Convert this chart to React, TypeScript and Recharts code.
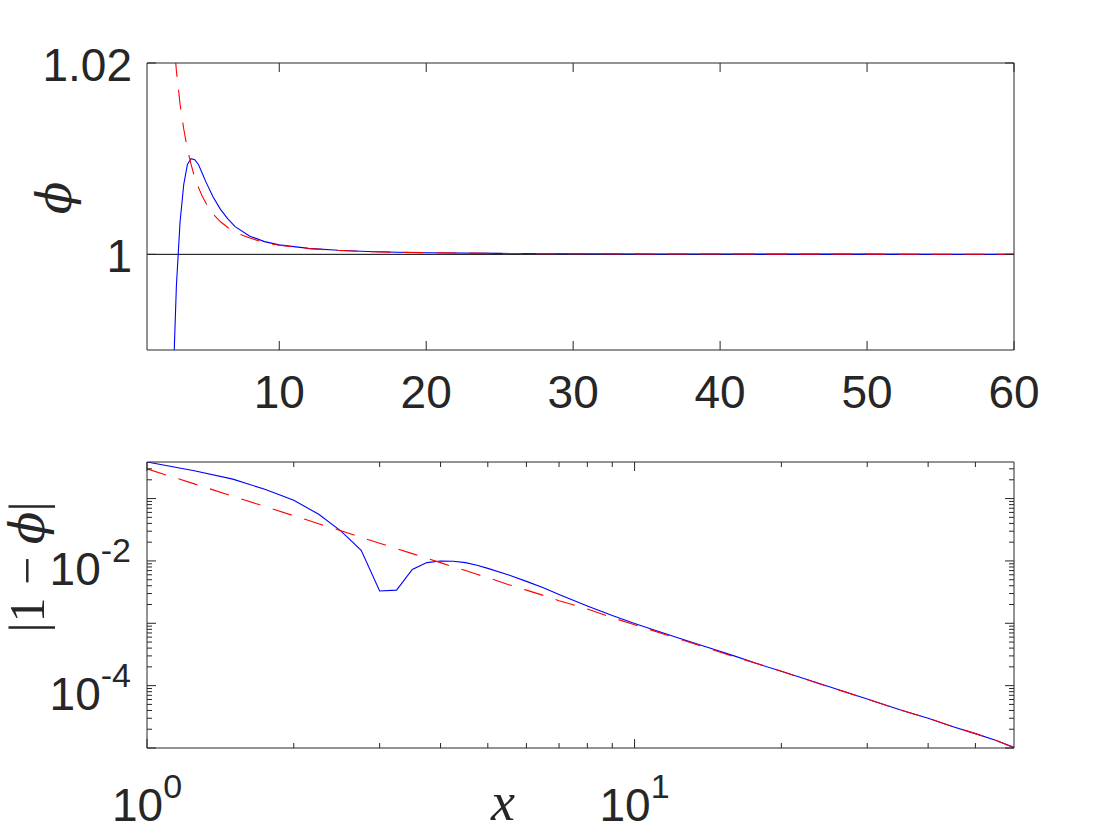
import React from 'react';
import { LineChart, Line, XAxis, YAxis, ReferenceLine } from 'recharts';

// ---- data ----
const xValues = [1, 1.25, 1.5, 1.75, 2, 2.25, 2.5, 2.75, 3, 3.25, 3.5, 3.75, 4, 4.25, 4.5, 4.75, 5, 5.5, 6, 6.5, 7, 8, 9, 10, 12, 14, 16, 18, 20, 25, 30, 35, 40, 45, 50, 55, 60];
// numerical solution: phi - 1 (blue)
const numericalDeviation = [-0.386, -0.28, -0.205, -0.14, -0.094, -0.056, -0.03, -0.0148, -0.0033, 0.0034, 0.0073, 0.0094, 0.01, 0.0099, 0.0094, 0.0085, 0.0076, 0.006, 0.0047, 0.0037, 0.0029, 0.0019, 0.00133, 0.00099, 0.00062, 0.00042, 0.0003, 0.00022, 0.00017, 0.000097, 0.000061, 0.000041, 0.00003, 0.000022, 0.000017, 0.0000133, 0.0000102];
// asymptotic approximation: phi - 1 (red dashed)
const asymptoticDeviation = [0.3, 0.172, 0.109, 0.074, 0.053, 0.0395, 0.0304, 0.0239, 0.0192, 0.0157, 0.0131, 0.011, 0.0094, 0.008, 0.007, 0.0061, 0.0054, 0.0042, 0.0034, 0.0028, 0.0023, 0.0017, 0.00123, 0.00095, 0.0006, 0.00041, 0.00029, 0.00022, 0.00017, 0.000096, 0.000061, 0.000041, 0.00003, 0.000022, 0.000017, 0.0000133, 0.0000101];

const topXTicks = [10, 20, 30, 40, 50, 60];
const topYTicks = [1, 1.02];
const topYTickLabels = ['1', '1.02'];

const logXMajor = [1, 10];
const logXMinor = [2, 3, 4, 5, 6, 7, 8, 9, 20, 30, 40, 50];
const logXExponents = ['0', '1'];
const logYMajor = [1e-5, 1e-4, 1e-3, 1e-2, 1e-1];
const logYMinor = [2e-5, 3e-5, 4e-5, 5e-5, 6e-5, 7e-5, 8e-5, 9e-5, 2e-4, 3e-4, 4e-4, 5e-4, 6e-4, 7e-4, 8e-4, 9e-4, 2e-3, 3e-3, 4e-3, 5e-3, 6e-3, 7e-3, 8e-3, 9e-3, 2e-2, 3e-2, 4e-2, 5e-2, 6e-2, 7e-2, 8e-2, 9e-2, 2e-1, 3e-1];
const logYLabeled = [1e-4, 1e-2];
const logYExponents = ['-4', '-2'];

// ---- tables built from the arrays ----
const topData = xValues.map((x, i) => ({
  x,
  numerical: 1 + numericalDeviation[i],
  asymptotic: 1 + asymptoticDeviation[i],
}));
const bottomData = xValues.map((x, i) => ({
  x,
  numerical: Math.abs(numericalDeviation[i]),
  asymptotic: asymptoticDeviation[i],
}));

const INK = '#262626';
const SANS = "'Liberation Sans', Arial, Helvetica, sans-serif";
const BIG = 46;
const SUP = 34;
const MAJOR_LEN = 9;
const MINOR_LEN = 5;

const same = (a: number, b: number) => Math.abs(a - b) <= Math.abs(b) * 1e-9;

type Side = 'bottom' | 'top' | 'left' | 'right';

const makeTick = (
  side: Side,
  majors: number[],
  label?: (v: number, x: number, y: number) => React.ReactNode
) => (props: any) => {
  const { x, y, payload } = props;
  const v = payload.value as number;
  const len = majors.some((m) => same(v, m)) ? MAJOR_LEN : MINOR_LEN;
  let line: React.ReactNode = null;
  if (side === 'bottom') line = <line x1={x} y1={y} x2={x} y2={y - len} stroke={INK} strokeWidth={1} />;
  if (side === 'top') line = <line x1={x} y1={y} x2={x} y2={y + len} stroke={INK} strokeWidth={1} />;
  if (side === 'left') line = <line x1={x} y1={y} x2={x + len} y2={y} stroke={INK} strokeWidth={1} />;
  if (side === 'right') line = <line x1={x} y1={y} x2={x - len} y2={y} stroke={INK} strokeWidth={1} />;
  return (
    <g>
      {line}
      {label ? label(v, x, y) : null}
    </g>
  );
};

const topXLabel = (v: number, x: number, y: number) => (
  <text x={x} y={y + 58} textAnchor="middle" fontFamily={SANS} fontSize={BIG} fill={INK}>
    {String(v)}
  </text>
);
const topYLabel = (v: number, x: number, y: number) => {
  const idx = topYTicks.findIndex((t) => same(v, t));
  if (idx < 0) return null;
  return (
    <text x={x - 15} y={y + 18} textAnchor="end" fontFamily={SANS} fontSize={BIG} fill={INK}>
      {topYTickLabels[idx]}
    </text>
  );
};
const logXLabel = (v: number, x: number, y: number) => {
  const idx = logXMajor.findIndex((t) => same(v, t));
  if (idx < 0) return null;
  return (
    <text x={x} y={y + 73} textAnchor="middle" fontFamily={SANS} fontSize={BIG} fill={INK}>
      10
      <tspan dy={-23.5} fontSize={SUP}>
        {logXExponents[idx]}
      </tspan>
    </text>
  );
};
const logYLabel = (v: number, x: number, y: number) => {
  const idx = logYLabeled.findIndex((t) => same(v, t));
  if (idx < 0) return null;
  return (
    <text x={x - 16} y={y + 24} textAnchor="end" fontFamily={SANS} fontSize={BIG} fill={INK}>
      10
      <tspan dy={-23} fontSize={SUP}>
        {logYExponents[idx]}
      </tspan>
    </text>
  );
};

const axisLine = { stroke: INK, strokeWidth: 1 };

export default function App() {
  return (
    <div style={{ position: 'absolute', left: 0, top: 0, width: 1120, height: 840, background: '#fff' }}>
      {/* upper panel: phi vs x, linear */}
      <div style={{ position: 'absolute', left: 0, top: 0 }}>
        <LineChart width={1120} height={430} data={topData} margin={{ top: 53, right: 96, bottom: 60, left: 127 }}>
          <XAxis
            xAxisId="b"
            orientation="bottom"
            type="number"
            dataKey="x"
            domain={[1, 60]}
            allowDataOverflow
            ticks={topXTicks}
            interval={0}
            height={20}
            tickSize={0}
            tickMargin={0}
            tickLine={false}
            axisLine={axisLine}
            tick={makeTick('bottom', topXTicks, topXLabel)}
          />
          <XAxis
            xAxisId="t"
            orientation="top"
            type="number"
            dataKey="x"
            domain={[1, 60]}
            allowDataOverflow
            ticks={topXTicks}
            interval={0}
            height={10}
            tickSize={0}
            tickMargin={0}
            tickLine={false}
            axisLine={axisLine}
            tick={makeTick('top', topXTicks)}
          />
          <YAxis
            yAxisId="l"
            orientation="left"
            type="number"
            domain={[0.99, 1.02]}
            allowDataOverflow
            ticks={topYTicks}
            interval={0}
            width={20}
            tickSize={0}
            tickMargin={0}
            tickLine={false}
            axisLine={axisLine}
            tick={makeTick('left', topYTicks, topYLabel)}
          />
          <YAxis
            yAxisId="r"
            orientation="right"
            type="number"
            domain={[0.99, 1.02]}
            allowDataOverflow
            ticks={topYTicks}
            interval={0}
            width={10}
            tickSize={0}
            tickMargin={0}
            tickLine={false}
            axisLine={axisLine}
            tick={makeTick('right', topYTicks)}
          />
          <ReferenceLine xAxisId="b" yAxisId="l" y={1} stroke="#000000" strokeWidth={1} />
          <Line
            xAxisId="b"
            yAxisId="l"
            type="linear"
            dataKey="numerical"
            stroke="#0000ff"
            strokeWidth={1.1}
            dot={false}
            activeDot={false}
            isAnimationActive={false}
          />
          <Line
            xAxisId="b"
            yAxisId="l"
            type="linear"
            dataKey="asymptotic"
            stroke="#ff0000"
            strokeWidth={1.1}
            strokeDasharray="20 13"
            dot={false}
            activeDot={false}
            isAnimationActive={false}
          />
        </LineChart>
      </div>

      {/* lower panel: |1 - phi| vs x, log-log */}
      <div style={{ position: 'absolute', left: 0, top: 430 }}>
        <LineChart width={1120} height={410} data={bottomData} margin={{ top: 22, right: 96, bottom: 72, left: 127 }}>
          <XAxis
            xAxisId="b"
            orientation="bottom"
            type="number"
            scale="log"
            dataKey="x"
            domain={[1, 60]}
            allowDataOverflow
            ticks={[...logXMajor, ...logXMinor]}
            interval={0}
            height={20}
            tickSize={0}
            tickMargin={0}
            tickLine={false}
            axisLine={axisLine}
            tick={makeTick('bottom', logXMajor, logXLabel)}
          />
          <XAxis
            xAxisId="t"
            orientation="top"
            type="number"
            scale="log"
            dataKey="x"
            domain={[1, 60]}
            allowDataOverflow
            ticks={[...logXMajor, ...logXMinor]}
            interval={0}
            height={10}
            tickSize={0}
            tickMargin={0}
            tickLine={false}
            axisLine={axisLine}
            tick={makeTick('top', logXMajor)}
          />
          <YAxis
            yAxisId="l"
            orientation="left"
            type="number"
            scale="log"
            domain={[1e-5, 0.386]}
            allowDataOverflow
            ticks={[...logYMajor, ...logYMinor]}
            interval={0}
            width={20}
            tickSize={0}
            tickMargin={0}
            tickLine={false}
            axisLine={axisLine}
            tick={makeTick('left', logYMajor, logYLabel)}
          />
          <YAxis
            yAxisId="r"
            orientation="right"
            type="number"
            scale="log"
            domain={[1e-5, 0.386]}
            allowDataOverflow
            ticks={[...logYMajor, ...logYMinor]}
            interval={0}
            width={10}
            tickSize={0}
            tickMargin={0}
            tickLine={false}
            axisLine={axisLine}
            tick={makeTick('right', logYMajor)}
          />
          <Line
            xAxisId="b"
            yAxisId="l"
            type="linear"
            dataKey="numerical"
            stroke="#0000ff"
            strokeWidth={1.1}
            dot={false}
            activeDot={false}
            isAnimationActive={false}
          />
          <Line
            xAxisId="b"
            yAxisId="l"
            type="linear"
            dataKey="asymptotic"
            stroke="#ff0000"
            strokeWidth={1.1}
            strokeDasharray="20 13"
            dot={false}
            activeDot={false}
            isAnimationActive={false}
          />
        </LineChart>
      </div>

      {/* axis titles */}
      <svg
        width={1120}
        height={840}
        style={{ position: 'absolute', left: 0, top: 0, pointerEvents: 'none' }}
      >
        <text
          x={71}
          y={198}
          transform="rotate(-90 71 198)"
          textAnchor="middle"
          fontFamily="'DejaVu Serif', serif"
          fontStyle="italic"
          fontSize={48}
          fill={INK}
        >
          ϕ
        </text>
        <text
          x={44}
          y={567}
          transform="rotate(-90 44 567)"
          textAnchor="middle"
          fontFamily="'Liberation Serif', 'Times New Roman', serif"
          fontSize={50}
          fill={INK}
        >
          |1 − <tspan fontFamily="'DejaVu Serif', serif" fontStyle="italic" fontSize={48}>ϕ</tspan>|
        </text>
        <text
          x={503}
          y={820}
          textAnchor="middle"
          fontFamily="'Liberation Serif', 'Times New Roman', serif"
          fontStyle="italic"
          fontSize={54}
          fill={INK}
        >
          x
        </text>
      </svg>
    </div>
  );
}
